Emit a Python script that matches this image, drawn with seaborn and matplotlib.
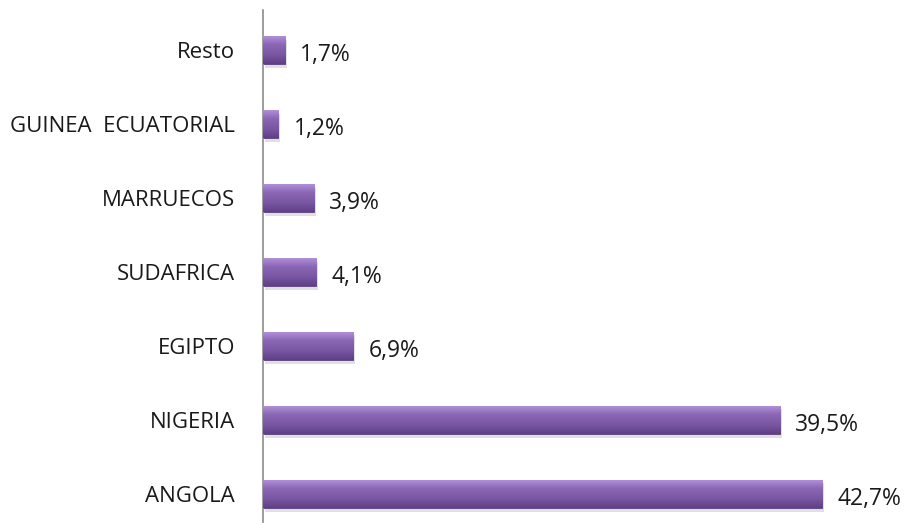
import numpy as np
import matplotlib.pyplot as plt
import seaborn as sns
from matplotlib.colors import LinearSegmentedColormap

paises = ['Resto', 'GUINEA  ECUATORIAL', 'MARRUECOS', 'SUDAFRICA', 'EGIPTO', 'NIGERIA', 'ANGOLA']
porcentajes = [1.7, 1.2, 3.9, 4.1, 6.9, 39.5, 42.7]
etiquetas = ['1,7%', '1,2%', '3,9%', '4,1%', '6,9%', '39,5%', '42,7%']

sns.set_style('white')
plt.rcParams['font.family'] = ['Open Sans', 'DejaVu Sans']

fig = plt.figure(figsize=(9.09, 5.23), dpi=100)
ax = fig.add_axes([0.289, 0.002, 0.70, 0.979])

sns.barplot(x=porcentajes, y=paises, orient='h', color='#7d5aa6',
            width=0.38, edgecolor='#5a3d80', linewidth=0.6, ax=ax)

# degradado vertical para imitar el biselado
cmap = LinearSegmentedColormap.from_list('bisel', ['#b393dc', '#8a66b4', '#7a57a3', '#5f4087'])
grad = np.linspace(0, 1, 64).reshape(-1, 1)
for p in ax.patches:
    x0, y0 = p.get_x(), p.get_y()
    w, h = p.get_width(), p.get_height()
    # sombra
    ax.add_patch(plt.Rectangle((x0 + 0.15, y0 + 0.05), w, h, color='#000000',
                               alpha=0.12, zorder=1, linewidth=0))
    im = ax.imshow(grad, cmap=cmap, aspect='auto', extent=(x0, x0 + w, y0 + h, y0),
                   zorder=3, interpolation='bicubic')
    im.set_clip_path(p)
    p.set_zorder(2)

for p, txt in zip(ax.patches[:len(etiquetas)], etiquetas):
    ax.annotate(txt, (p.get_x() + p.get_width(), p.get_y() + p.get_height() / 2),
                xytext=(11, -4), textcoords='offset points', va='center', ha='left',
                fontsize=16.5, color='#1a1a1a')

ax.set_xlim(0, 48.6)
ax.set_ylim(6.38, -0.54)
ax.set_xlabel('')
ax.set_ylabel('')
ax.set_xticks([])
ax.tick_params(axis='y', length=0, pad=20, labelsize=16, colors='#1a1a1a')
for s in ['top', 'right', 'bottom']:
    ax.spines[s].set_visible(False)
ax.spines['left'].set_color('#8c8c8c')
ax.spines['left'].set_linewidth(1.2)

fig.savefig('out.png', dpi=100)
